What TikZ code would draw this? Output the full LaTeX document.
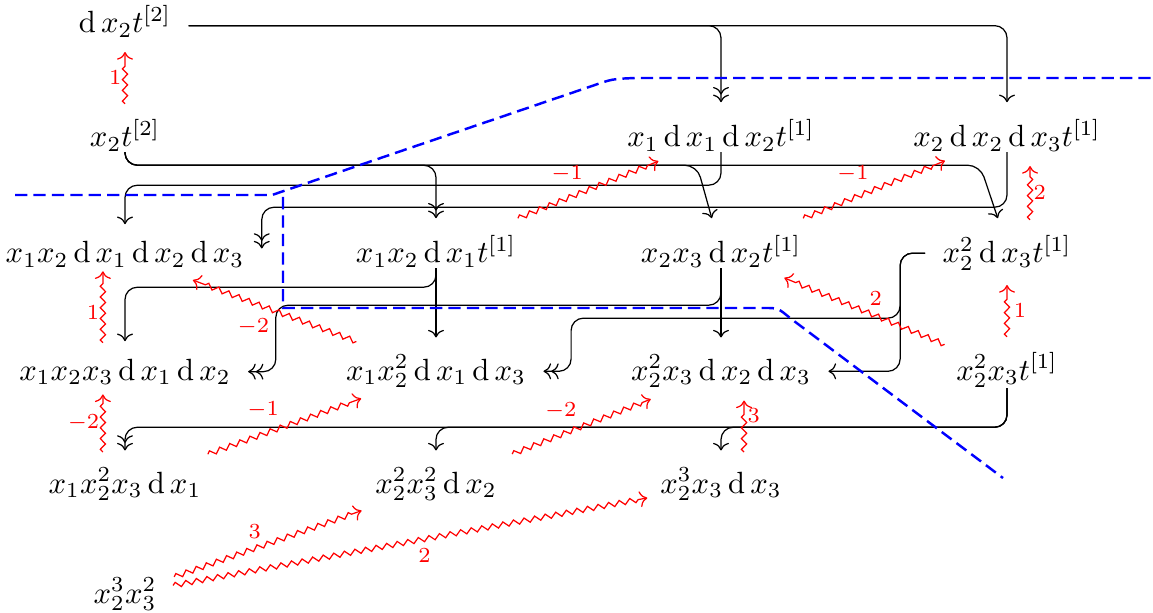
\documentclass[tikz,border=0pt]{standalone}
\usepackage{amsmath}
\usetikzlibrary{calc,decorations.pathmorphing,cd}
\DeclareMathOperator{\dif}{d}
\tikzset{
  >={cm to},
  cell/.style={anchor=base, inner xsep=5.5pt, inner ysep=0pt},
  diff/.style={->, rounded corners=4pt},
  difff/.style={->>, rounded corners=4pt},
  squig/.style={red, ->, decorate, decoration={zigzag, amplitude=0.85pt, segment length=3.5pt, post length=3pt}},
  lbl/.style={red, font=\scriptsize, inner sep=1pt},
  cut/.style={blue, thick, dash pattern=on 4pt off 2pt}
}
\begin{document}
\begin{tikzpicture}[x=0.01145cm, y=-0.01145cm]
\useasboundingbox (0,0) rectangle (1153,613);
\node[cell] (n11) at (125,33) {$\dif x_2t^{[2]}$};
\node[cell] (n21) at (125,147) {$x_2t^{[2]}$};
\node[cell] (n23) at (721,147) {$x_1\dif x_1\dif x_2t^{[1]}$};
\node[cell] (n24) at (1007,147) {$x_2\dif x_2\dif x_3t^{[1]}$};
\node[cell] (n31) at (125,263) {$x_1x_2\dif x_1\dif x_2\dif x_3$};
\node[cell] (n32) at (436,263) {$x_1x_2\dif x_1t^{[1]}$};
\node[cell] (n33) at (721,263) {$x_2x_3\dif x_2t^{[1]}$};
\node[cell] (n34) at (1007,263) {$x_2^2\dif x_3t^{[1]}$};
\node[cell] (n41) at (125,380) {$x_1x_2x_3\dif x_1\dif x_2$};
\node[cell] (n42) at (436,380) {$x_1x_2^2\dif x_1\dif x_3$};
\node[cell] (n43) at (721,380) {$x_2^2x_3\dif x_2\dif x_3$};
\node[cell] (n44) at (1007,380) {$x_2^2x_3t^{[1]}$};
\node[cell] (n51) at (125,493) {$x_1x_2^2x_3\dif x_1$};
\node[cell] (n52) at (436,493) {$x_2^2x_3^2\dif x_2$};
\node[cell] (n53) at (721,493) {$x_2^3x_3\dif x_3$};
\node[cell] (n61) at (125,603) {$x_2^3x_3^2$};

\draw[difff] ([yshift=-1.3pt]n11.east) -| ([yshift=5.5pt]n23.north);
\draw[diff] ([yshift=-1.3pt]n11.east) -| ([yshift=5.5pt]n24.north);
\draw[difff] (n21.south) -- ++(0,13) -| ([yshift=5.5pt]n32.north);
\draw[diff] (n21.south) -- ++(0,13) -- ++(572,0) -- ([xshift=-3pt,yshift=5.5pt]n33.north);
\draw[diff] (n21.south) -- ++(0,13) -- ++(855,0) -- ([xshift=-3pt,yshift=5.5pt]n34.north);
\draw[diff] (n23.south) -- ++(0,33) -| ([yshift=5.5pt]n31.north);
\draw[difff] (n24.south) -- ++(0,55) -| ([yshift=2pt]n31.east);
\draw[diff] (n32.south) -- ++(0,19) -| ([yshift=5.5pt]n41.north);
\draw[diff] (n32.south) -- ([yshift=5.5pt]n42.north);
\draw[difff] (n33.south) -- ++(0,37) -| ([xshift=9pt]n41.east) -- (n41.east);
\draw[diff] (n33.south) -- ([yshift=5.5pt]n43.north);
\draw[difff] (n34.west) -- ++(-25,0) -- ++(0,65) -| ([xshift=9pt]n42.east) -- (n42.east);
\draw[diff] (n34.west) -- ++(-25,0) |- (n43.east);
\draw[difff] (n44.south) -- ++(0,39) -| ([yshift=5.5pt]n51.north);
\draw[diff] (n44.south) -- ++(0,39) -| ([yshift=5.5pt]n52.north);
\draw[diff] (n44.south) -- ++(0,39) -| ([yshift=5.5pt]n53.north);

\draw[squig] ([yshift=5pt]n21.north) -- node[lbl, left] {$1$} ([yshift=-4.5pt]n11.south);
\draw[squig] ($(n32)!28.8pt!(n23)$) -- node[lbl, pos=.35, above=4pt] {$-1$} ($(n23)!22pt!(n32)$);
\draw[squig] ($(n33)!28.9pt!(n24)$) -- node[lbl, pos=.35, above=4pt] {$-1$} ($(n24)!21.8pt!(n33)$);
\draw[squig] ([xshift=7.5pt,yshift=5pt]n34.north) -- node[lbl, right] {$2$} ([xshift=7.5pt,yshift=-4.5pt]n24.south);
\draw[squig] ([yshift=5pt]n44.north) -- node[lbl, right=1pt] {$1$} ([yshift=-4.5pt]n34.south);
\draw[squig] ($(n44)!22pt!(n33)$) -- node[lbl, pos=.43, above=2pt] {$2$} ($(n33)!22.3pt!(n44)$);
\draw[squig] ($(n42)!27.7pt!(n31)$) -- node[lbl, pos=.63, below=4pt] {$-2$} ($(n31)!23.6pt!(n42)$);
\draw[squig] ([xshift=-7.2pt,yshift=5pt]n41.north) -- node[lbl, left, pos=.42] {$1$} ([xshift=-7.2pt,yshift=-1pt]n31.south);
\draw[squig] ([xshift=-7.2pt,yshift=5pt]n51.north) -- node[lbl, left] {$-2$} ([xshift=-7.2pt,yshift=-3pt]n41.south);
\draw[squig] ($(n51)!28.7pt!(n42)$) -- node[lbl, pos=.36, above=4pt] {$-1$} ($(n42)!25.9pt!(n51)$);
\draw[squig] ($(n52)!26.7pt!(n43)$) -- node[lbl, pos=.35, above=4pt] {$-2$} ($(n43)!24.6pt!(n52)$);
\draw[squig] ([xshift=7.5pt,yshift=5pt]n53.north) -- node[lbl, right, pos=.7] {$3$} ([xshift=7.5pt,yshift=-4pt]n43.south);
\draw[squig] ($(n61)!17pt!(n52)$) -- node[lbl, pos=.43, above=2pt] {$3$} ($(n52)!25.7pt!(n61)$);
\draw[squig] ($(n61)!15.9pt!(n53)$) -- node[lbl, pos=.53, below=2pt] {$2$} ($(n53)!24.4pt!(n61)$);

\draw[cut] (15,195) -- (272,195) -- (592,86) .. controls (612,79) .. (635,78) -- (1153,78);
\draw[cut] (283,197) -- (283,308) -- (765,308) .. controls (778,308) .. (790,318) -- (1003,478);
\end{tikzpicture}
\end{document}
